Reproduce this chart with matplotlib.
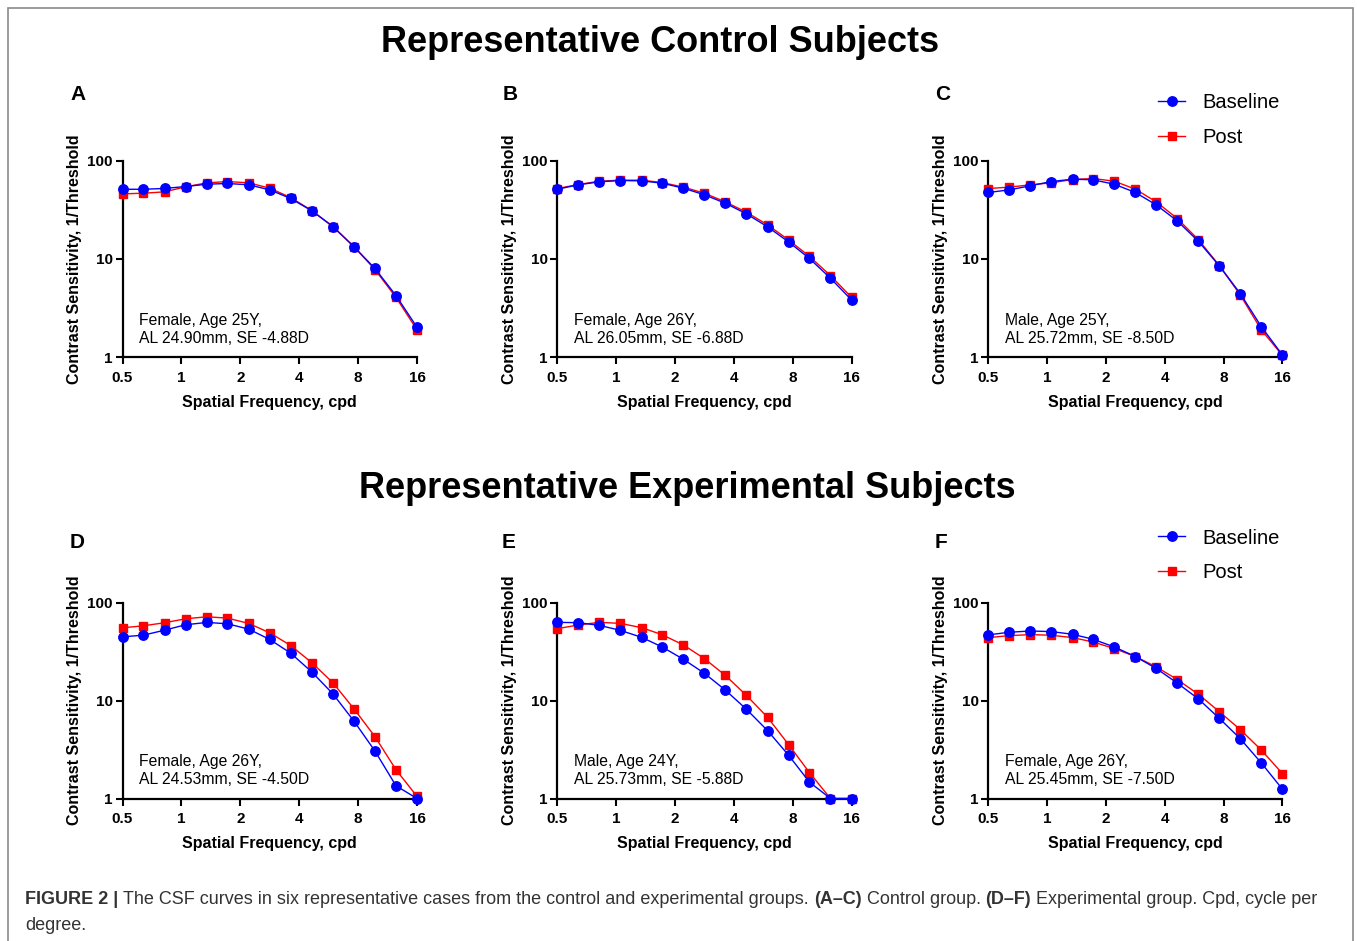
import numpy as np
import matplotlib
matplotlib.use('agg')
import matplotlib.pyplot as plt
from matplotlib.lines import Line2D
from matplotlib.patches import Rectangle

plt.rcParams['font.family'] = ['Liberation Sans', 'DejaVu Sans']

# spatial frequencies (cpd), same for every panel
freqs = [0.5, 0.64, 0.82, 1.05, 1.35, 1.72, 2.21, 2.83, 3.62, 4.64, 5.95, 7.62, 9.75, 12.49, 16.0]

# contrast sensitivity
A_base = [51, 51, 52, 54.4, 57.4, 58.4, 56.6, 50.3, 41.1, 30.8, 21.3, 13.3, 8.0, 4.24, 2.02]
A_post = [45.8, 46.5, 48, 54, 59.3, 61.1, 59.3, 52.3, 42, 31, 21.3, 13.3, 7.8, 4.07, 1.9]
B_base = [51, 56.6, 60.7, 62.6, 62.1, 58.8, 52.3, 44.8, 36.8, 28.7, 21.2, 14.9, 10.1, 6.36, 3.83]
B_post = [51.9, 57, 61.6, 63.1, 63.1, 59.7, 53.6, 46.5, 38, 29.8, 22.2, 15.6, 10.6, 6.77, 4.07]
C_base = [47.3, 50.3, 55.3, 61.1, 64.6, 63.6, 57.4, 47.3, 35.4, 24.3, 15.1, 8.49, 4.44, 2.05, 1.06]
C_post = [51.9, 53.6, 56.6, 59.3, 64.1, 65.6, 61.6, 51.1, 38, 25.7, 15.7, 8.55, 4.3, 1.9, 1.05]
D_base = [44.8, 46.6, 52.4, 59.5, 62.9, 60.9, 53.7, 42.1, 30.5, 19.6, 11.7, 6.17, 3.06, 1.35, 1.0]
D_post = [55.4, 58.1, 62.4, 68.5, 71.8, 69.6, 61.4, 49.2, 36.5, 24.4, 15.2, 8.24, 4.29, 1.97, 1.05]
E_base = [63, 62.5, 58.7, 52.2, 44.3, 35.3, 26.4, 19, 12.8, 8.16, 4.94, 2.77, 1.47, 1.0, 1.0]
E_post = [54.3, 59.2, 63, 61.5, 55.6, 47.1, 37, 26.8, 18.1, 11.3, 6.76, 3.56, 1.84, 1.0, 1.0]
F_base = [46.9, 49.9, 51.4, 50.7, 47.6, 42.3, 35.3, 28.2, 21.3, 15.1, 10.4, 6.58, 4.08, 2.31, 1.25]
F_post = [44, 46.1, 47.2, 46.5, 44, 39.7, 34, 28.2, 22.1, 16.4, 11.6, 7.7, 5.05, 3.13, 1.8]

letters = ['A', 'B', 'C', 'D', 'E', 'F']
notes = ['Female, Age 25Y,\nAL 24.90mm, SE -4.88D',
         'Female, Age 26Y,\nAL 26.05mm, SE -6.88D',
         'Male, Age 25Y,\nAL 25.72mm, SE -8.50D',
         'Female, Age 26Y,\nAL 24.53mm, SE -4.50D',
         'Male, Age 24Y,\nAL 25.73mm, SE -5.88D',
         'Female, Age 26Y,\nAL 25.45mm, SE -7.50D']
baseline = [A_base, B_base, C_base, D_base, E_base, F_base]
post = [A_post, B_post, C_post, D_post, E_post, F_post]
titles = ['Representative Control Subjects', 'Representative Experimental Subjects']
xticks = [0.5, 1, 2, 4, 8, 16]
xtickLabels = ['0.5', '1', '2', '4', '8', '16']

W, H = 1357, 941
BLUE = '#0000ff'
RED = '#ff0000'

fig = plt.figure(figsize=(W / 100, H / 100), dpi=100)


def px(x0, y0, x1, y1):
    # pixel box -> figure fraction rect
    return [x0 / W, 1 - y1 / H, (x1 - x0) / W, (y1 - y0) / H]


colX = [(122.5, 417), (557.3, 851.5), (988.3, 1282.3)]
rowY = [(160.5, 357.3), (602.7, 798.5)]
letterPos = [(78, 94), (510, 94), (943, 94), (77, 543), (509, 543), (941, 543)]


def drawPanel(i):
    r, c = divmod(i, 3)
    ax = fig.add_axes(px(colX[c][0], rowY[r][0], colX[c][1], rowY[r][1]))
    ax.plot(freqs, post[i], color=RED, marker='s', ms=6.3, lw=1, clip_on=False, zorder=3)
    ax.plot(freqs, baseline[i], color=BLUE, marker='o', ms=6.8, lw=1, clip_on=False, zorder=4)
    ax.set_xscale('log', base=2)
    ax.set_yscale('log')
    ax.set_xlim(0.5, 16)
    ax.set_ylim(1, 100)
    ax.set_xticks(xticks)
    ax.set_xticklabels(xtickLabels)
    ax.set_yticks([1, 10, 100])
    ax.set_yticklabels(['1', '10', '100'])
    ax.minorticks_off()
    for s in ['top', 'right']:
        ax.spines[s].set_visible(False)
    for s in ['left', 'bottom']:
        ax.spines[s].set_linewidth(1.6)
    ax.tick_params(length=5, width=1.5, labelsize=11)
    ax.tick_params(axis='x', pad=5)
    ax.tick_params(axis='y', pad=2)
    for t in ax.get_xticklabels() + ax.get_yticklabels():
        t.set_fontweight('bold')
    ax.set_xlabel('Spatial Frequency, cpd', fontsize=11.5, fontweight='bold')
    ax.set_ylabel('Contrast Sensitivity, 1/Threshold', fontsize=11.5, fontweight='bold')
    ax.xaxis.set_label_coords(0.5, -0.19)
    ax.yaxis.set_label_coords(-0.137, 0.5)
    ax.text(0.056, 0.225, notes[i], transform=ax.transAxes, fontsize=11.3,
            va='top', ha='left', linespacing=1.22)
    lx, ly = letterPos[i]
    fig.text(lx / W, 1 - ly / H, letters[i], fontsize=15, fontweight='bold',
             ha='center', va='center')
    return ax


for i in range(6):
    drawPanel(i)

# group titles
fig.text(660 / W, 1 - 43 / H, titles[0], fontsize=26, fontweight='bold', ha='center', va='center')
fig.text(687 / W, 1 - 489 / H, titles[1], fontsize=26, fontweight='bold', ha='center', va='center')

# legends on the right panels
handles = [Line2D([], [], color=BLUE, marker='o', ms=6.8, lw=1),
           Line2D([], [], color=RED, marker='s', ms=6.3, lw=1)]
for top in [93.5, 528.5]:
    fig.legend(handles, ['Baseline', 'Post'], loc='upper left',
               bbox_to_anchor=(1158 / W, 1 - top / H), frameon=False, fontsize=14.5,
               handlelength=1.35, handletextpad=0.85, labelspacing=0.78, borderpad=0,
               borderaxespad=0)

# caption, pieces placed one after another
capFam = ['Liberation Sans Narrow', 'Liberation Sans']
capColor = '#333333'
line1 = [('FIGURE 2 | ', 'bold'),
         ('The CSF curves in six representative cases from the control and experimental groups. ', 'normal'),
         ('(A\u2013C)', 'bold'), (' Control group. ', 'normal'),
         ('(D\u2013F)', 'bold'), (' Experimental group. Cpd, cycle per', 'normal')]
renderer = fig.canvas.get_renderer()


def placeLine(size, draw):
    x = 25
    made = []
    for txt, wt in line1:
        t = fig.text(x / W, 1 - 900 / H, txt, fontsize=size, fontweight=wt, family=capFam,
                     color=capColor, va='center', ha='left')
        x = x + t.get_window_extent(renderer).width
        made.append(t)
    if not draw:
        for t in made:
            t.remove()
    return x


# fit the first caption line to the width it has in the original (25..1322 px)
capSize = 12.5
endX = placeLine(capSize, False)
capSize = capSize * (1322 - 25) / (endX - 25)
placeLine(capSize, True)
fig.text(25 / W, 1 - 926 / H, 'degree.', fontsize=capSize, family=capFam,
         color=capColor, va='center', ha='left')

# thin frame around the whole figure
fig.patches.append(Rectangle((8 / W, -0.01), (1353 - 8) / W, 1 - 8 / H + 0.01,
                             transform=fig.transFigure, fill=False, edgecolor='#8a8a8a',
                             lw=1.2, clip_on=False))

fig.savefig('out.png', dpi=100)
